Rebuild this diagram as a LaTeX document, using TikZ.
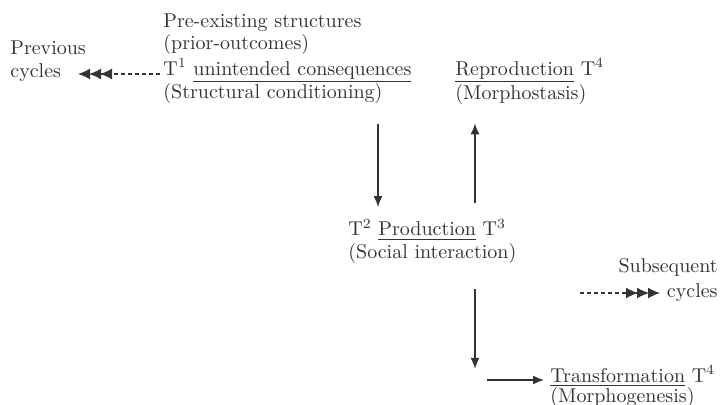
\documentclass[tikz,border=0pt]{standalone}
\usepackage{tikz}
\usetikzlibrary{arrows.meta, positioning}

\tikzset{
  txt/.style={inner sep=0pt, align=left, anchor=base west, text=black!80,
    font=\fontsize{10}{11}\selectfont},
  arr/.style={-{Latex[length=5.5pt,width=4.5pt]}, line width=0.75pt, draw=black!80},
  cyc/.style={line width=0.7pt, draw=black!80, dash pattern=on 2pt off 1.5pt,
    -{Latex[length=6pt,width=5.5pt,sep=-0.5pt]Latex[length=6pt,width=5.5pt,sep=-0.5pt]Latex[length=6pt,width=5.5pt]}}
}
\newcommand{\tsup}[1]{T\textsuperscript{#1}}

\begin{document}
\begin{tikzpicture}[x=0.5pt, y=-0.5pt]
    \useasboundingbox (0,0) rectangle (721,405);
    % nodes sit on the baseline of their last line
    \node[txt] (prev) at (10,78) {Previous\\[0.5pt]cycles};
    \node[txt] (struct) at (163,99) {Pre-existing structures\\(prior-outcomes)\\[2pt]%
      \tsup{1} \underline{unintended consequences}\\[-0.5pt](Structural conditioning)};
    \node[txt] (repro) at (455,100) {\underline{Reproduction} \tsup{4}\\(Morphostasis)};
    \node[txt] (prod) at (348,258) {\tsup{2} \underline{Production} \tsup{3}\\(Social interaction)};
    \node[txt, align=right, anchor=base east] (subs) at (718,297) {Subsequent\\[1.5pt]cycles};
    \node[txt] (trans) at (550,402) {\underline{Transformation} \tsup{4}\\[-1pt](Morphogenesis)};
    %
    \coordinate (prevtip) at (78,74);
    \coordinate (substail) at (580,293);
    \coordinate (substip) at (660,293);
    \coordinate (turn) at (487,380);
    %
    \draw[cyc] (struct.west |- prevtip) ++(-3,0) -- (prevtip);
    \draw[cyc] (substail) -- (substip);
    \draw[arr, shorten <=10pt, shorten >=6pt] (struct.south -| 378,0) -- (prod.north -| 378,0);
    \draw[arr, shorten <=8pt, shorten >=9pt] (prod.north -| 475,0) -- (repro.south -| 475,0);
    \draw[arr, shorten <=13pt, shorten >=-2pt] (prod.south -| 475,0) -- (trans.north -| 475,0);
    \draw[arr, shorten >=3pt] (turn) -- (turn -| trans.west);
\end{tikzpicture}
\end{document}
